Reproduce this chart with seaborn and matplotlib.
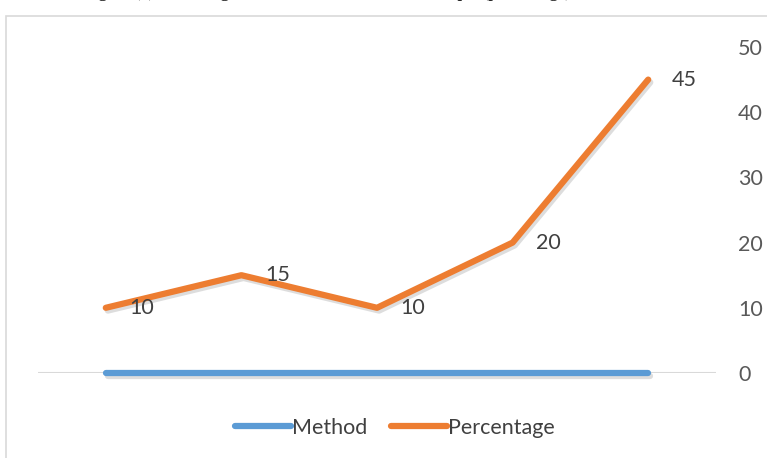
import matplotlib
matplotlib.use("Agg")
import pandas as pd
import matplotlib.pyplot as plt
import matplotlib.patheffects as pe
import seaborn as sns
from matplotlib.patches import Rectangle
from matplotlib.lines import Line2D

# data
stages = ["1", "2", "3", "4", "5"]
method = [0, 0, 0, 0, 0]
percentage = [10, 15, 10, 20, 45]
y_ticks = [0, 10, 20, 30, 40, 50]

df = pd.DataFrame({
    "stage": stages * 2,
    "value": method + percentage,
    "series": ["Method"] * len(stages) + ["Percentage"] * len(stages),
})

sns.set_style("white")
plt.rcParams["font.family"] = ["Lato", "DejaVu Sans"]

fig = plt.figure(figsize=(7.67, 4.58), dpi=100)
ax = fig.add_axes([38 / 767, 85 / 458, 678 / 767, 326 / 458])

blue = "#5B9BD5"
orange = "#ED7D31"
grey_txt = "#595959"
fs = 15.5

# zero gridline
ax.axhline(0, color="#D9D9D9", lw=1.5, zorder=1)

sns.lineplot(data=df, x="stage", y="value", hue="series", sort=False,
             palette={"Method": blue, "Percentage": orange},
             linewidth=4.5, legend=False, ax=ax, zorder=3)
shadow = [pe.SimpleLineShadow(offset=(1.5, -2), shadow_color="#909090", alpha=0.3),
          pe.Normal()]
for ln in ax.get_lines()[1:]:
    ln.set_solid_capstyle("round")
    ln.set_solid_joinstyle("round")
    ln.set_clip_on(False)
    ln.set_path_effects(shadow)

# data labels, to the right of each point
for i, v in enumerate(percentage):
    ax.annotate(str(v), (i, v), xytext=(17, 0), textcoords="offset points",
                ha="left", va="center", fontsize=fs, color="#404040")

ax.set_xlim(-0.5, len(stages) - 0.5)
ax.set_ylim(0, 50)
ax.set_yticks(y_ticks)
ax.yaxis.tick_right()
ax.tick_params(axis="y", length=0, pad=16, labelsize=fs, labelcolor=grey_txt)
ax.set_xticks([])
ax.set_xlabel("")
ax.set_ylabel("")
sns.despine(ax=ax, left=True, bottom=True, right=True, top=True)

# legend
handles = [Line2D([], [], color=blue, lw=4.5, solid_capstyle="round"),
           Line2D([], [], color=orange, lw=4.5, solid_capstyle="round")]
fig.legend(handles, ["Method", "Percentage"], loc="center",
           bbox_to_anchor=(395 / 767, 1 - 428 / 458), ncol=2, frameon=False,
           fontsize=fs, labelcolor="#404040", handlelength=2.6,
           handletextpad=0.05, columnspacing=1.1)

# chart border
fig.patches.append(Rectangle((6 / 767, -0.05), 1.0, 1 - 16 / 458 + 0.05,
                             transform=fig.transFigure, fill=False,
                             edgecolor="#D9D9D9", lw=1.2))

# caption above the chart, mostly cut off by the page edge
fig.text(84 / 767, 1 + 3 / 458,
         "Figure (1) Percentage of the methods used in the sample (percentage),",
         fontsize=12, fontweight="bold", family="Liberation Serif",
         va="baseline", ha="left")

fig.savefig("out.png", dpi=100)
